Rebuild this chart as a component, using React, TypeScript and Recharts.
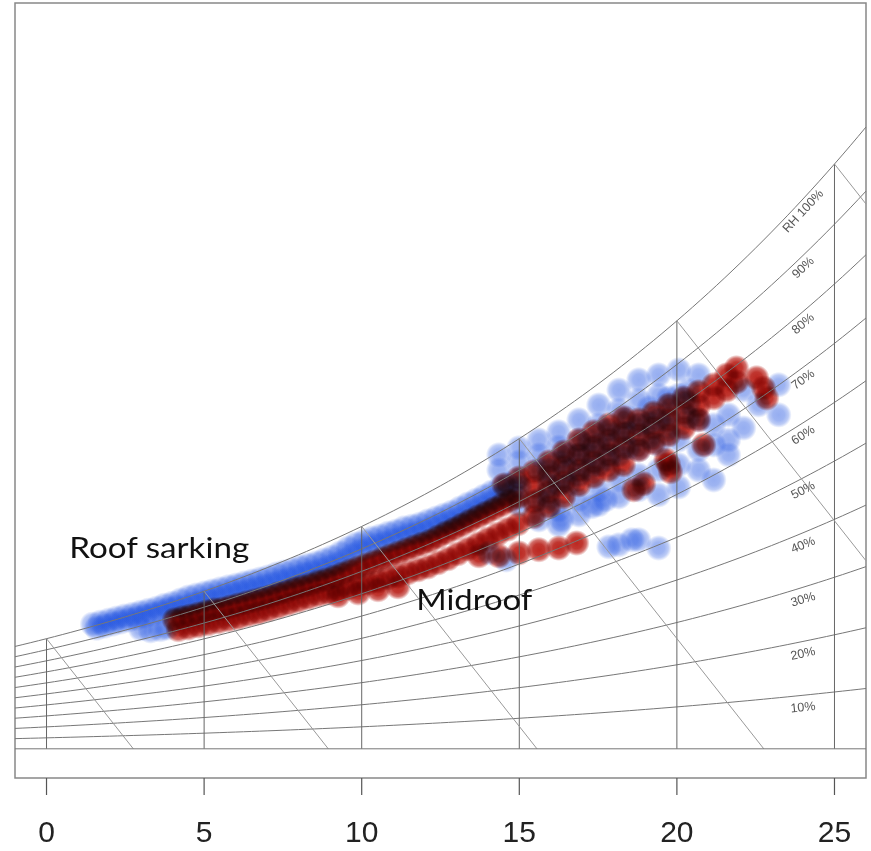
import React from "react";
import { ComposedChart, XAxis, YAxis, Scatter, ReferenceArea } from "recharts";

const CHART_W = 871;
const CHART_H = 851;
const MARGIN = { top: 3, right: 5, bottom: 13, left: 15 };
const AXIS_H = 60;

const T_MIN = -1;
const T_MAX = 26;
const W_MIN = -1;
const W_MAX = 25.55;

const TEMP_TICKS = [0, 5, 10, 15, 20, 25];
const RH_LEVELS = [10, 20, 30, 40, 50, 60, 70, 80, 90, 100];
const RH_LABEL_TEMP = 24;
const DIAG_SLOPE = 1.37; // g/kg per °C along the sloping guides

// logger readings: [dry bulb °C, humidity ratio g/kg]
const sarkingBand: [number, number][] = [
  [1.46, 4.27], [1.59, 4.13], [1.71, 4.34], [1.84, 4.2], [1.97, 4.41], [2.1, 4.27],
  [2.22, 4.48], [2.35, 4.34], [2.47, 4.55], [2.6, 4.41], [2.73, 4.61], [2.86, 4.47],
  [2.98, 4.68], [3.11, 4.54], [3.23, 4.75], [3.36, 4.61], [3.49, 4.82], [3.62, 4.68],
  [3.74, 4.92], [3.87, 4.78], [3.99, 4.99], [4.12, 4.85], [4.25, 5.1], [4.38, 4.86],
  [4.5, 5.2], [4.63, 4.96], [4.75, 5.27], [4.88, 5.03], [5.01, 5.34], [5.14, 5.1],
  [5.26, 5.41], [5.39, 5.17], [5.51, 5.48], [5.64, 5.24], [5.77, 5.55], [5.9, 5.31],
  [6.02, 5.61], [6.15, 5.37], [6.27, 5.68], [6.4, 5.44], [6.53, 5.75], [6.66, 5.51],
  [6.78, 5.82], [6.91, 5.58], [7.03, 5.89], [7.16, 5.65], [7.29, 5.99], [7.42, 5.75],
  [7.54, 6.06], [7.67, 5.82], [7.8, 6.13], [7.93, 5.89], [8.05, 6.23], [8.18, 5.99],
  [8.3, 6.3], [8.43, 6.06], [8.56, 6.37], [8.69, 6.13], [8.81, 6.47], [8.94, 6.23],
  [9.06, 6.57], [9.19, 6.33], [9.32, 6.71], [9.45, 6.47], [9.57, 6.88], [9.7, 6.64],
  [9.82, 7.02], [9.95, 6.78], [10.08, 7.12], [10.21, 6.88], [10.33, 7.22], [10.46, 6.98],
  [10.58, 7.29], [10.71, 7.05], [10.84, 7.39], [10.97, 7.15], [11.09, 7.46], [11.22, 7.22],
  [11.34, 7.57], [11.47, 7.33], [11.6, 7.63], [11.73, 7.39], [11.85, 7.7], [11.98, 7.46],
  [12.1, 7.81], [12.23, 7.57], [12.36, 7.91], [12.49, 7.67], [12.61, 8.01], [12.74, 7.77],
  [12.86, 8.11], [12.99, 7.87], [13.12, 8.25], [13.25, 8.01], [13.37, 8.39], [13.5, 8.15],
  [13.63, 8.52], [13.76, 8.28], [13.88, 8.66], [14.01, 8.42], [14.13, 8.8], [14.26, 8.56],
  [14.39, 8.94], [14.52, 8.7], [14.64, 9.07], [14.77, 8.83], [14.89, 9.21], [15.02, 8.97],
  [2.98, 4.11], [3.3, 4.04], [3.61, 4.08], [3.83, 4.14],
];

const sarkingCloud: [number, number][] = [
  [14.35, 10.07], [14.35, 9.55], [14.99, 10.31], [14.99, 9.83], [14.99, 8.36],
  [15.62, 10.58], [15.62, 10.07], [15.62, 9.55], [15.62, 8.53], [15.62, 7.84],
  [16.25, 10.86], [16.25, 10.34], [16.25, 9.83], [16.25, 9.04], [16.25, 8.18], [16.25, 7.67],
  [16.89, 11.27], [16.89, 10.58], [16.89, 10.07], [16.89, 9.38], [16.89, 8.53], [16.89, 8.01],
  [17.52, 11.78], [17.52, 11.1], [17.52, 10.41], [17.52, 9.73], [17.52, 8.87], [17.52, 8.36],
  [18.16, 12.29], [18.16, 11.61], [18.16, 10.86], [18.16, 10.07], [18.16, 9.21], [18.16, 8.63], [18.16, 6.99],
  [18.79, 12.64], [18.79, 11.95], [18.79, 11.1], [18.79, 10.24], [18.79, 9.38], [18.79, 8.87], [18.79, 7.16],
  [19.42, 12.81], [19.42, 12.12], [19.42, 11.27], [19.42, 10.41], [19.42, 9.55], [19.42, 8.7], [19.42, 6.88],
  [20.06, 12.98], [20.06, 12.12], [20.06, 10.58], [20.06, 9.73], [20.06, 8.97],
  [20.69, 12.81], [20.69, 11.27], [20.69, 10.24], [20.69, 9.55],
  [21.17, 11.1], [21.17, 10.41], [21.17, 9.21],
  [21.64, 11.44], [21.64, 10.58], [21.64, 10.07],
  [22.12, 12.29], [22.12, 10.99], [22.59, 11.78], [23.23, 12.47], [23.23, 11.44],
  [17.74, 8.53], [17.3, 8.29], [16.35, 7.84], [17.84, 6.92], [18.57, 7.16],
  [14.04, 6.71], [14.58, 6.47],
  [15.94, 9.55], [15.94, 9.04], [15.94, 8.53],
  [16.57, 10.07], [16.57, 9.55], [16.57, 9.04],
  [17.21, 10.58], [17.21, 10.07], [17.21, 9.55],
  [17.84, 10.92], [17.84, 10.41], [17.84, 9.9],
  [18.47, 11.34], [18.47, 10.82], [18.47, 10.31],
  [19.11, 11.68], [19.11, 11.16], [19.11, 10.65],
  [19.74, 12.02], [19.74, 11.51], [19.74, 10.99],
  [20.37, 12.29], [20.37, 11.85], [20.37, 11.34],
];

const midroofBand: [number, number][] = [
  [4.06, 4.42], [4.31, 4.49], [4.56, 4.55], [4.82, 4.62], [5.07, 4.69], [5.32, 4.76],
  [5.58, 4.79], [5.83, 4.86], [6.08, 4.93], [6.34, 5.0], [6.59, 5.07], [6.84, 5.14],
  [7.1, 5.21], [7.35, 5.31], [7.6, 5.38], [7.86, 5.48], [8.11, 5.55], [8.37, 5.62],
  [8.62, 5.72], [8.87, 5.79], [9.13, 5.89], [9.38, 5.99], [9.63, 6.1], [9.89, 6.2],
  [10.14, 6.3], [10.39, 6.4], [10.65, 6.51], [10.9, 6.61], [11.15, 6.71], [11.41, 6.82],
  [11.66, 6.92], [11.91, 7.02], [12.17, 7.12], [12.42, 7.26], [12.67, 7.4], [12.93, 7.53],
  [13.18, 7.67], [13.43, 7.81], [13.69, 7.95], [13.94, 8.08], [14.2, 8.22], [14.45, 8.36],
  [14.7, 8.49], [14.96, 8.63],
  [4.18, 4.08], [4.5, 4.14], [4.82, 4.21], [5.13, 4.28], [5.45, 4.35], [5.77, 4.42],
  [6.08, 4.49], [6.4, 4.59], [6.72, 4.66], [7.03, 4.76], [7.35, 4.86], [7.67, 4.97],
  [7.98, 5.07], [8.3, 5.17], [8.62, 5.27], [8.94, 5.34], [9.25, 5.45], [9.57, 5.51],
  [9.89, 5.62], [10.2, 5.68], [10.52, 5.75], [10.84, 5.86], [11.15, 5.92], [11.47, 6.03],
  [11.79, 6.13], [12.1, 6.23], [12.42, 6.37], [12.74, 6.51], [13.05, 6.68], [13.37, 6.85],
  [13.69, 7.02], [14.0, 7.19], [14.32, 7.36], [14.64, 7.53], [14.96, 7.71],
  [9.25, 5.24], [9.89, 5.34], [10.52, 5.45], [11.15, 5.55],
  [13.72, 6.61], [14.35, 6.61], [14.99, 6.71], [15.62, 6.82], [16.25, 6.88], [16.82, 7.05],
];

const midroofCloud: [number, number][] = [
  [14.51, 9.04], [14.99, 9.28],
  [15.46, 9.49], [15.46, 8.97], [15.46, 8.46], [15.46, 7.95],
  [15.94, 9.83], [15.94, 9.32], [15.94, 8.8], [15.94, 8.29],
  [16.41, 10.17], [16.41, 9.66], [16.41, 9.14], [16.41, 8.63],
  [16.89, 10.58], [16.89, 10.07], [16.89, 9.55], [16.89, 9.04],
  [17.36, 10.86], [17.36, 10.34], [17.36, 9.83], [17.36, 9.32],
  [17.84, 11.1], [17.84, 10.58], [17.84, 10.07], [17.84, 9.55],
  [18.31, 11.34], [18.31, 10.82], [18.31, 10.31], [18.31, 9.73],
  [18.79, 11.27], [18.79, 10.75], [18.79, 10.24],
  [19.26, 11.51], [19.26, 10.99], [19.26, 10.48],
  [19.74, 11.78], [19.74, 11.27], [19.74, 10.75], [19.74, 9.73],
  [20.22, 12.02], [20.22, 11.51], [20.22, 10.99],
  [20.69, 12.23], [20.69, 11.75], [20.69, 11.27],
  [21.17, 12.47], [21.17, 12.02], [21.58, 12.81], [21.58, 12.29],
  [21.89, 13.05], [21.89, 12.57],
  [22.53, 12.71], [22.75, 12.36], [22.85, 12.02],
  [19.65, 9.9], [19.8, 9.49], [18.63, 8.87], [18.95, 9.08], [20.85, 10.41],
];

const toPoints = (rows: [number, number][]) => rows.map(([t, w]) => ({ t, w }));

// psychrometric relations at sea level
const P_ATM = 101325;
const satPressure = (t: number) => 610.94 * Math.exp((17.625 * t) / (t + 243.04));
const humidityRatio = (t: number, rh: number) => {
  const pw = rh * satPressure(t);
  return (622 * pw) / (P_ATM - pw);
};

const pxPerT = (CHART_W - MARGIN.left - MARGIN.right) / (T_MAX - T_MIN);
const pxPerW = (CHART_H - MARGIN.top - MARGIN.bottom - AXIS_H) / (W_MAX - W_MIN);

const curveTemps: number[] = [];
for (let t = T_MIN; t <= T_MAX + 1e-9; t += 0.25) curveTemps.push(t);

const rhCurves = RH_LEVELS.map((rh) => ({
  rh,
  points: curveTemps.map((t) => ({ t, w: humidityRatio(t, rh / 100) })),
}));

const verticals = TEMP_TICKS.map((t) => [
  { t, w: 0 },
  { t, w: humidityRatio(t, 1) },
]);

const diagonals = TEMP_TICKS.map((t0) => {
  const w0 = humidityRatio(t0, 1);
  const tEnd = Math.min(t0 + w0 / DIAG_SLOPE, T_MAX);
  return [
    { t: t0, w: w0 },
    { t: tEnd, w: w0 - DIAG_SLOPE * (tEnd - t0) },
  ];
});

const baseline = [
  { t: T_MIN, w: 0 },
  { t: T_MAX, w: 0 },
];

const rhLabels = RH_LEVELS.map((rh) => {
  const slope =
    (humidityRatio(RH_LABEL_TEMP + 0.2, rh / 100) - humidityRatio(RH_LABEL_TEMP - 0.2, rh / 100)) / 0.4;
  return {
    t: RH_LABEL_TEMP,
    w: humidityRatio(RH_LABEL_TEMP, rh / 100),
    label: rh === 100 ? "RH 100%" : `${rh}%`,
    angle: (-Math.atan((slope * pxPerW) / pxPerT) * 180) / Math.PI,
  };
});

const seriesLabels = [
  { t: 0.72, w: 6.55, label: "Roof sarking", len: 180 },
  { t: 11.73, w: 4.76, label: "Midroof", len: 116 },
];

const DOT_R = 13;

const NoMark = () => <g />;

const BlueDot = (props: any) => (
  <circle cx={props.cx} cy={props.cy} r={DOT_R} fill="url(#sarkingDot)" />
);

// multiply so that midroof over sarking readings go dark
const RedDot = (props: any) => (
  <circle
    cx={props.cx}
    cy={props.cy}
    r={DOT_R}
    fill="url(#midroofDot)"
    style={{ mixBlendMode: "multiply" }}
  />
);

const RhLabel = (props: any) => {
  const p = props.payload ?? props;
  const x = props.cx;
  const y = props.cy + 12;
  return (
    <text
      x={x}
      y={y}
      transform={`rotate(${p.angle} ${x} ${y})`}
      textAnchor="middle"
      dominantBaseline="central"
      fontSize={12.5}
      fill="#555"
      fontFamily="'Liberation Sans', Arial, sans-serif"
    >
      {p.label}
    </text>
  );
};

const SeriesLabel = (props: any) => {
  const p = props.payload ?? props;
  return (
    <text
      x={props.cx}
      y={props.cy}
      fontSize={29}
      fill="#111"
      textLength={p.len}
      lengthAdjust="spacingAndGlyphs"
      fontFamily="Lato, 'Noto Sans', sans-serif"
    >
      {p.label}
    </text>
  );
};

const AxisTick = ({ x, y, payload }: any) => (
  <text
    x={x}
    y={y + 45}
    textAnchor="middle"
    fontSize={30}
    fill="#222"
    fontFamily="'Liberation Sans', Arial, sans-serif"
  >
    {payload.value}
  </text>
);

const App: React.FC = () => (
  <div style={{ position: "absolute", left: 0, top: 0, background: "#fff" }}>
    <svg width={0} height={0} style={{ position: "absolute" }}>
      <defs>
        <radialGradient id="sarkingDot">
          <stop offset="0%" stopColor="rgb(35,85,225)" stopOpacity={0.48} />
          <stop offset="45%" stopColor="rgb(35,85,225)" stopOpacity={0.44} />
          <stop offset="75%" stopColor="rgb(35,85,225)" stopOpacity={0.3} />
          <stop offset="100%" stopColor="rgb(35,85,225)" stopOpacity={0} />
        </radialGradient>
        <radialGradient id="midroofDot">
          <stop offset="0%" stopColor="rgb(180,16,8)" stopOpacity={0.9} />
          <stop offset="45%" stopColor="rgb(180,16,8)" stopOpacity={0.84} />
          <stop offset="75%" stopColor="rgb(180,16,8)" stopOpacity={0.6} />
          <stop offset="100%" stopColor="rgb(180,16,8)" stopOpacity={0} />
        </radialGradient>
      </defs>
    </svg>
    <ComposedChart width={CHART_W} height={CHART_H} margin={MARGIN}>
      <XAxis
        type="number"
        dataKey="t"
        domain={[T_MIN, T_MAX]}
        ticks={TEMP_TICKS}
        height={AXIS_H}
        axisLine={false}
        tickSize={17}
        tickLine={{ stroke: "#555", strokeWidth: 1.2 }}
        tick={<AxisTick />}
      />
      <YAxis type="number" dataKey="w" domain={[W_MIN, W_MAX]} hide />

      <Scatter data={toPoints(sarkingBand)} dataKey="w" shape={BlueDot} isAnimationActive={false} />
      <Scatter data={toPoints(sarkingCloud)} dataKey="w" shape={BlueDot} isAnimationActive={false} />
      <Scatter data={toPoints(midroofBand)} dataKey="w" shape={RedDot} isAnimationActive={false} />
      <Scatter data={toPoints(midroofCloud)} dataKey="w" shape={RedDot} isAnimationActive={false} />

      {rhCurves.map((c) => (
        <Scatter
          key={`rh-${c.rh}`}
          data={c.points}
          dataKey="w"
          line={{ stroke: "#777", strokeWidth: 1 }}
          shape={NoMark}
          isAnimationActive={false}
        />
      ))}
      {verticals.map((seg, i) => (
        <Scatter
          key={`v-${i}`}
          data={seg}
          dataKey="w"
          line={{ stroke: "#666", strokeWidth: 1 }}
          shape={NoMark}
          isAnimationActive={false}
        />
      ))}
      {diagonals.map((seg, i) => (
        <Scatter
          key={`d-${i}`}
          data={seg}
          dataKey="w"
          line={{ stroke: "#999", strokeWidth: 1 }}
          shape={NoMark}
          isAnimationActive={false}
        />
      ))}
      <Scatter
        data={baseline}
        dataKey="w"
        line={{ stroke: "#777", strokeWidth: 1 }}
        shape={NoMark}
        isAnimationActive={false}
      />

      <Scatter data={rhLabels} dataKey="w" shape={RhLabel} isAnimationActive={false} />
      <Scatter data={seriesLabels} dataKey="w" shape={SeriesLabel} isAnimationActive={false} />

      <ReferenceArea
        x1={T_MIN}
        x2={T_MAX}
        y1={W_MIN}
        y2={W_MAX}
        fill="none"
        stroke="#888"
        strokeWidth={1.5}
        ifOverflow="visible"
      />
    </ComposedChart>
  </div>
);

export default App;
